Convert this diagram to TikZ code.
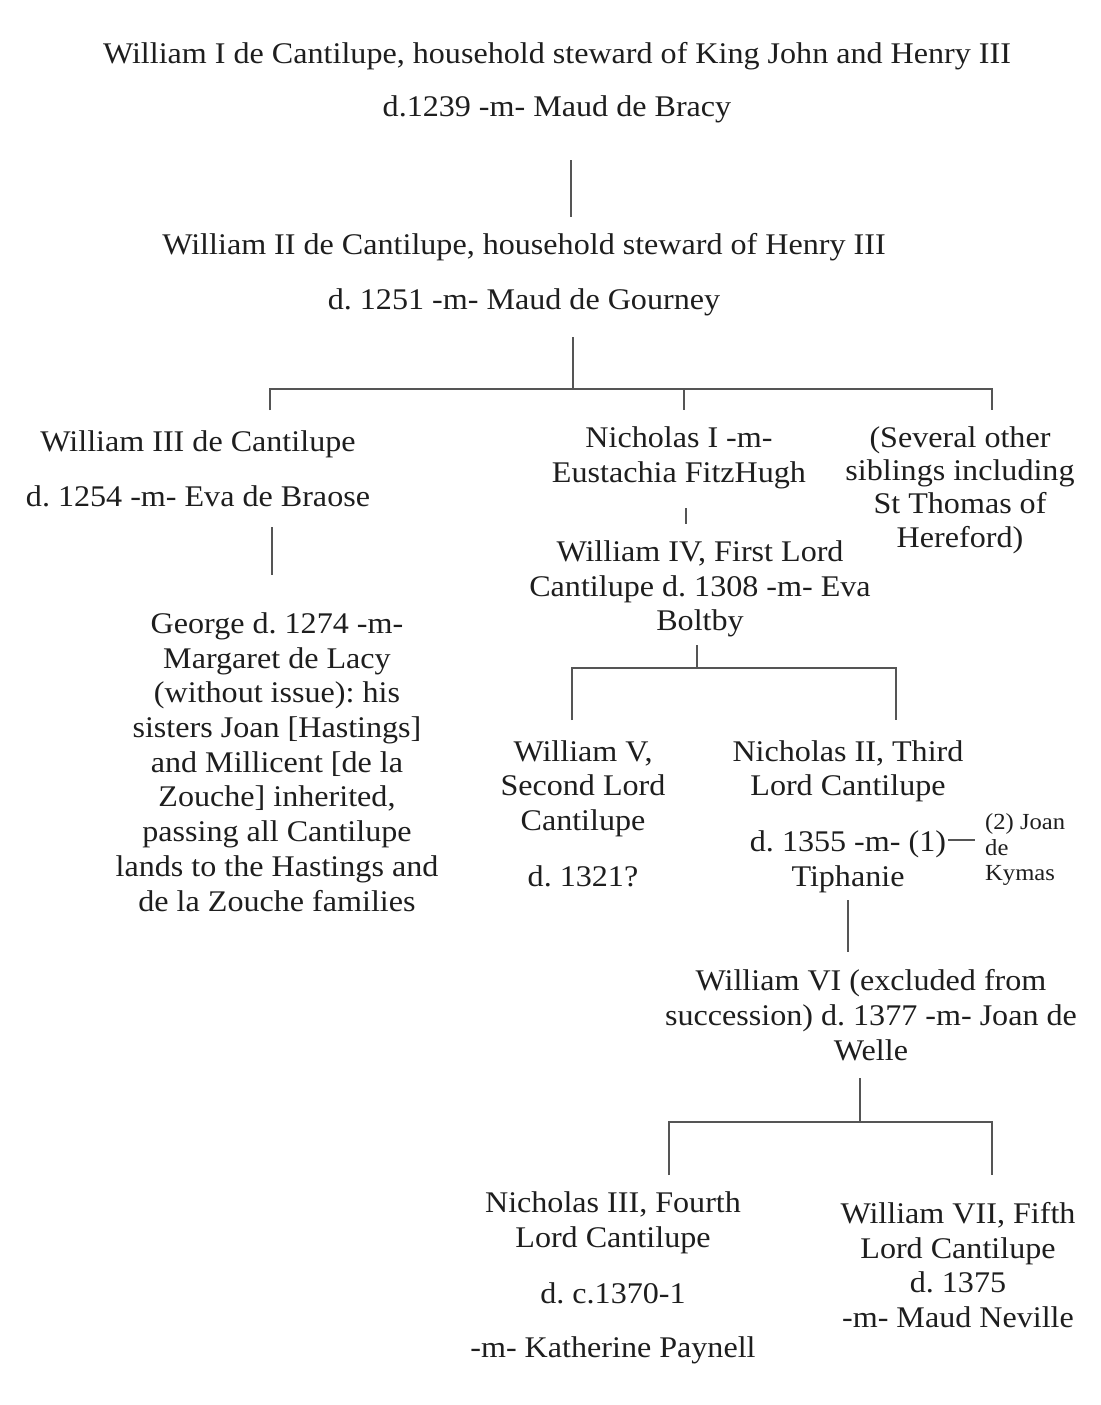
\documentclass[tikz,border=0pt]{standalone}
\usepackage{fontspec}
\setmainfont{Liberation Serif}[FakeStretch=1.07]
\frenchspacing
\definecolor{txt}{HTML}{1E1E1E}
\definecolor{linec}{HTML}{555555}
\newcommand{\mainsz}{\fontsize{30}{34.7}\selectfont}
\newcommand{\smallsz}{\fontsize{23}{25.5}\selectfont}
\tikzset{
  person/.style={font=\mainsz, align=center, text=txt, inner sep=0pt},
  note/.style={font=\smallsz, align=left, text=txt, inner sep=0pt, anchor=west},
  link/.style={draw=linec, line width=2pt},
  thinlink/.style={draw=linec, line width=1.3pt}
}
\begin{document}
\begin{tikzpicture}[x=1pt,y=-1pt]
\fill[white] (0,0) rectangle (1100,1405);
\useasboundingbox (0,0) rectangle (1100,1405);

% people
\node[person] (w1) at (557,83) {William I de Cantilupe, household steward of King John and Henry III\\[18.3pt]d.1239 -m- Maud de Bracy};
\node[person] (w2) at (524,275) {William II de Cantilupe, household steward of Henry III\\[20.3pt]d. 1251 -m- Maud de Gourney};
\node[person] (w3) at (198,468.5) {William III de Cantilupe\\[20.3pt]d. 1254 -m- Eva de Braose};
\node[person] (geo) at (277,762) {George d. 1274 -m-\\Margaret de Lacy\\(without issue): his\\sisters Joan [Hastings]\\and Millicent [de la\\Zouche] inherited,\\passing all Cantilupe\\lands to the Hastings and\\de la Zouche families};
\node[person] (n1) at (679,457.5) {Nicholas I -m-\\Eustachia FitzHugh};
\node[person] (w4) at (700,589) {William IV, First Lord\\Cantilupe d. 1308 -m- Eva\\Boltby};
\node[person, font=\fontsize{30}{33.4}\selectfont] (sev) at (960,490) {(Several other\\siblings including\\St Thomas of\\Hereford)};
\node[person] (w5) at (583,813.5) {William V,\\Second Lord\\Cantilupe\\[21pt]d. 1321?};
\node[person] (n2) at (848,816.5) {Nicholas II, Third\\Lord Cantilupe\\[21pt]d. 1355 -m- (1)\\Tiphanie};
\node[note] (joan) at (985,849.5) {(2) Joan\\de\\Kymas};
\node[person] (w6) at (871,1015) {William VI (excluded from\\succession) d. 1377 -m- Joan de\\Welle};
\node[person] (n3) at (613,1278) {Nicholas III, Fourth\\Lord Cantilupe\\[21pt]d. c.1370-1\\[19.5pt]-m- Katherine Paynell};
\node[person] (w7) at (958,1265) {William VII, Fifth\\Lord Cantilupe\\d. 1375\\-m- Maud Neville};

% connector points
\coordinate (a1) at (571,160); \coordinate (a2) at (571,217);
\coordinate (b1) at (573,337); \coordinate (b2) at (573,389);
\coordinate (bl) at (270,389); \coordinate (blb) at (270,410);
\coordinate (bm) at (684,389); \coordinate (bmb) at (684,410);
\coordinate (br) at (992,389); \coordinate (brb) at (992,410);
\coordinate (c1) at (272,527); \coordinate (c2) at (272,575);
\coordinate (d1) at (686,508); \coordinate (d2) at (686,524);
\coordinate (e1) at (697,645); \coordinate (e2) at (697,668);
\coordinate (el) at (572,668); \coordinate (elb) at (572,720);
\coordinate (er) at (896,668); \coordinate (erb) at (896,720);
\coordinate (m1) at (948,840); \coordinate (m2) at (975,840);
\coordinate (f1) at (848,900); \coordinate (f2) at (848,952);
\coordinate (g1) at (860,1078); \coordinate (g2) at (860,1122);
\coordinate (gl) at (669,1122); \coordinate (glb) at (669,1175);
\coordinate (gr) at (992,1122); \coordinate (grb) at (992,1175);

% connectors
\draw[link] (a1) -- (a2);
\draw[link] (b1) -- (b2);
\draw[link] (blb) -- (bl) -- (br) -- (brb);
\draw[link] (bm) -- (bmb);
\draw[link] (c1) -- (c2);
\draw[thinlink] (d1) -- (d2);
\draw[link] (e1) -- (e2);
\draw[link] (elb) -- (el) -- (er) -- (erb);
\draw[thinlink] (m1) -- (m2);
\draw[link] (f1) -- (f2);
\draw[link] (g1) -- (g2);
\draw[link] (glb) -- (gl) -- (gr) -- (grb);
\end{tikzpicture}
\end{document}
